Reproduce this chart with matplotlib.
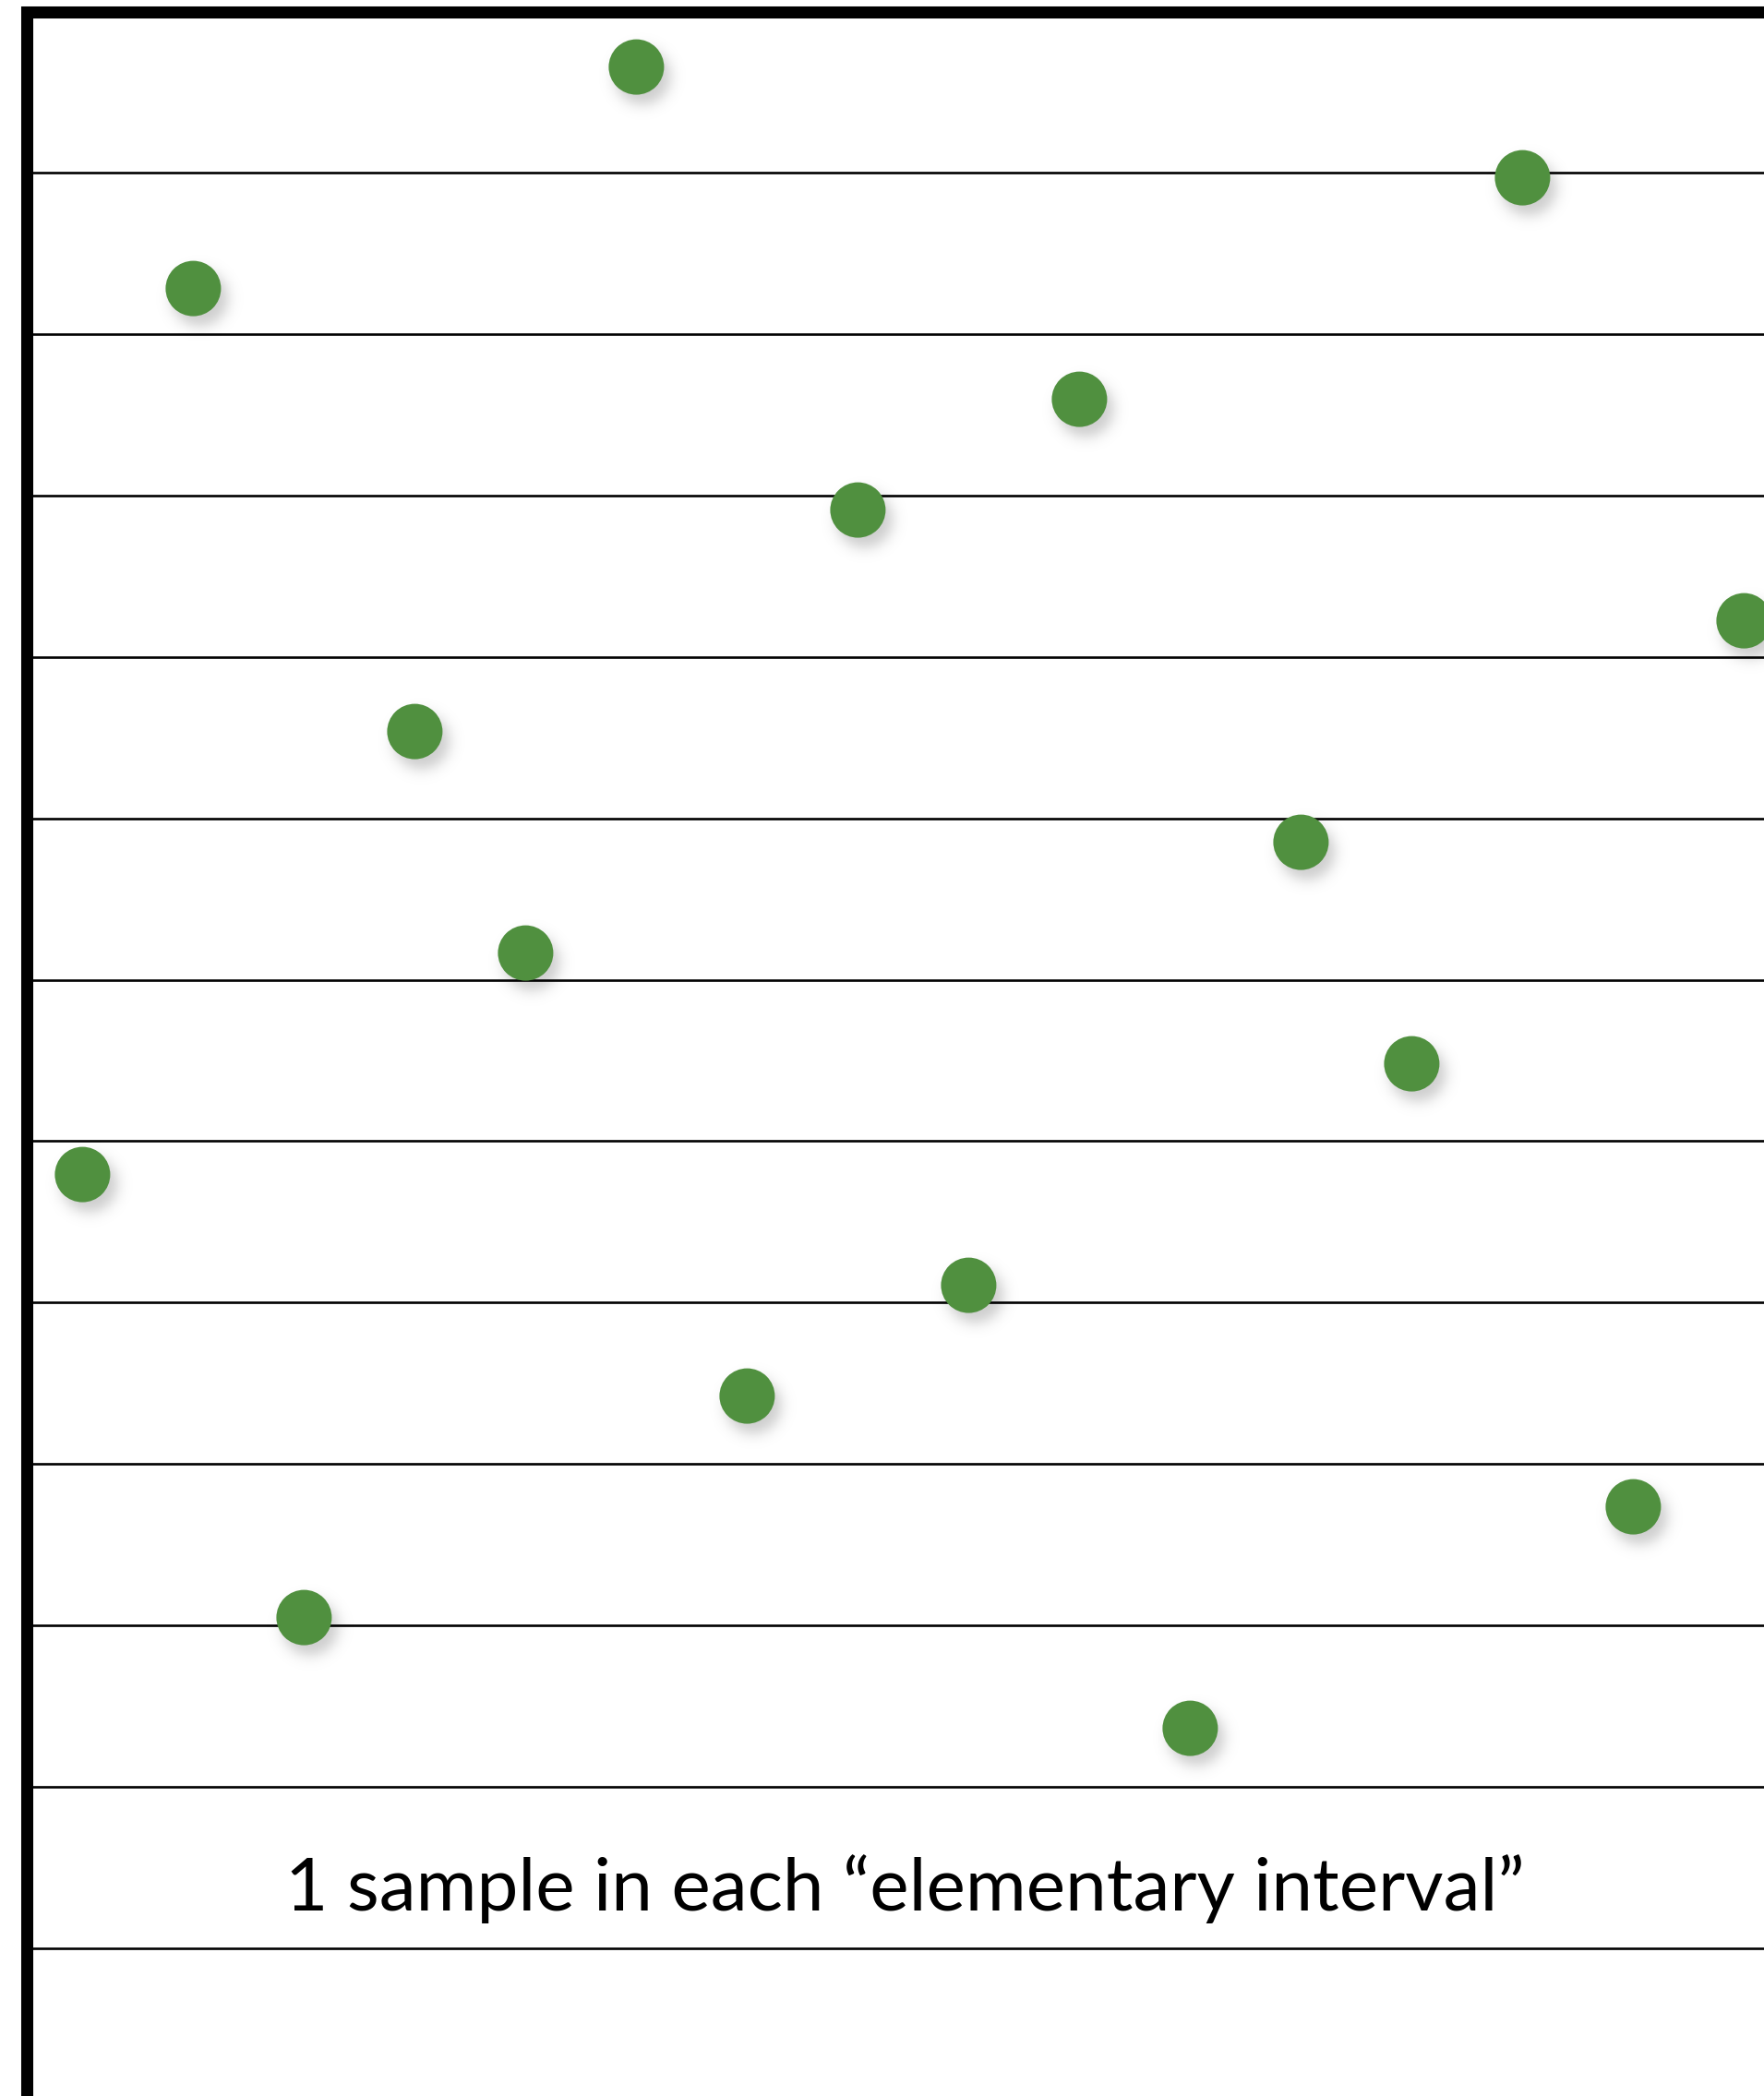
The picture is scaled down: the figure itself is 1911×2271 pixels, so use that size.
import numpy as np
import matplotlib.pyplot as plt

# stratum index of each sample: column (x) -> row (y), 16 samples
x_strata = list(range(16))
y_strata = [10, 2, 14, 6, 8, 0, 12, 4, 11, 3, 15, 7, 9, 1, 13, 5]
n_lines = 12
line_step = 1.457
caption = "1 sample in each \u201celementary interval\u201d"

W, H, DPI = 1911, 2271, 100
px = 120.0  # pixels per stratum
x0, y0 = 29.4, 12.6
xmax = (W - x0) / px
ymax = (H - y0) / px

fig = plt.figure(figsize=(W / DPI, H / DPI), dpi=DPI)
ax = fig.add_axes([0, 0, 1, 1])
ax.axis('off')

# horizontal interval lines, starting at the left border
ys_lines = [k * line_step for k in range(1, n_lines + 1)]
ax.hlines(ys_lines, 0, xmax + 1, color='black', lw=1.9, zorder=1)
# thick top and left border
ax.plot([0, 0, xmax + 1], [ymax + 1, 0, 0], color='black', lw=9.4,
        solid_joinstyle='miter', solid_capstyle='butt', zorder=2)

xs = np.array(x_strata) + 0.5
ys = np.array(y_strata) + 0.5

# soft drop shadow under each dot
R = 30 / px
half = 1.0
g = np.linspace(-half, half, 121)
gx, gy = np.meshgrid(g, g)
r = np.hypot(gx, gy)
alpha = 0.2 * 0.5 * (1 - np.tanh((r - R) / (9 / px)))
shadow = np.zeros((121, 121, 4))
shadow[..., 3] = alpha
dx, dy = 7 / px, 10 / px
for x, y in zip(xs, ys):
    ax.imshow(shadow, extent=(x + dx - half, x + dx + half, y + dy + half, y + dy - half),
              interpolation='bilinear', zorder=3, aspect='auto')

ax.scatter(xs, ys, s=(2 * 30 * 72 / DPI) ** 2, color='#50903F', edgecolors='none', zorder=4)

ax.set_xlim(-x0 / px, xmax)
ax.set_ylim(ymax, -y0 / px)

# caption, scaled to the target width
t = ax.text((309 - x0) / px, (2070 - y0) / px, caption, fontsize=60,
            family=['Lato', 'DejaVu Sans'], ha='left', va='baseline', zorder=5)
fig.canvas.draw()
w = t.get_window_extent().width
t.set_fontsize(60 * 1344 / w)

fig.savefig('out.png', dpi=DPI)
